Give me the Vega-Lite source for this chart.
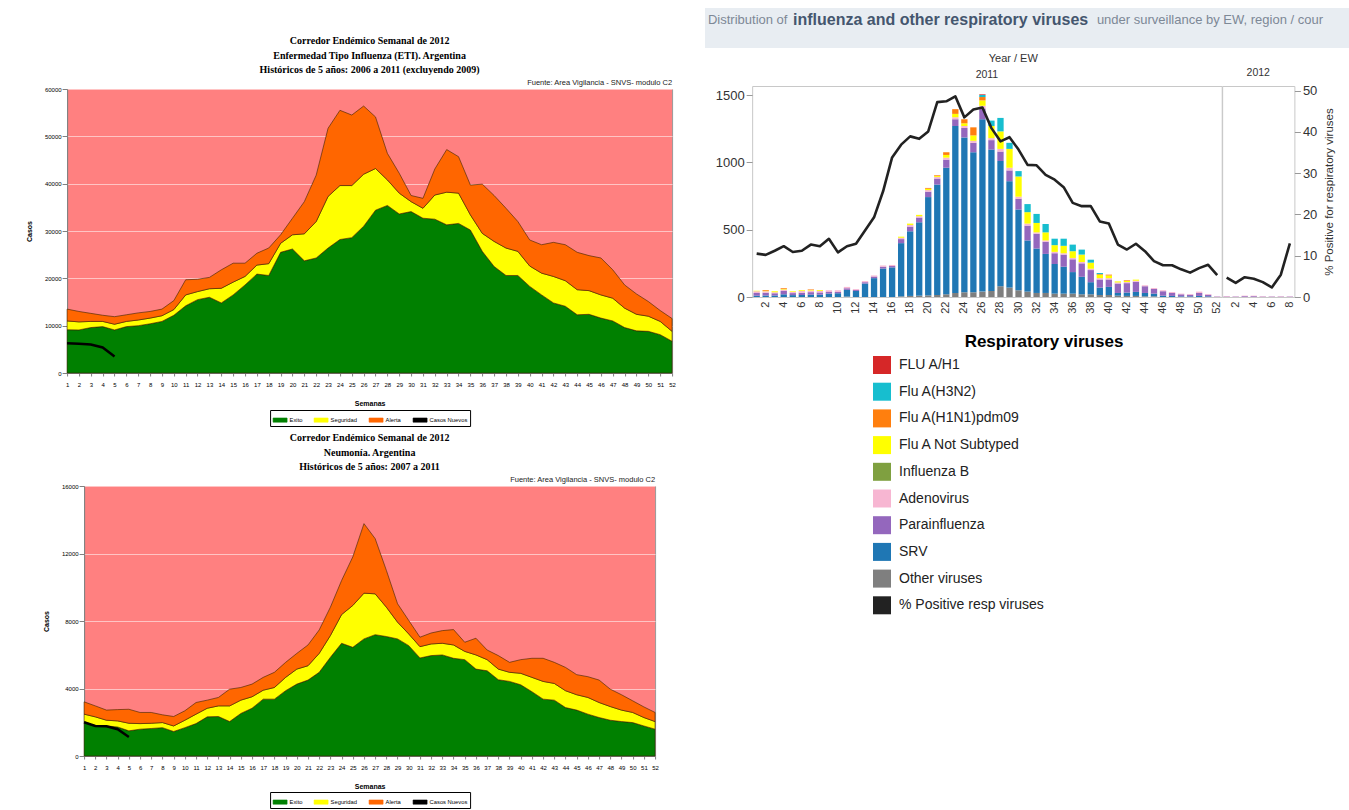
{
  "$schema": "https://vega.github.io/schema/vega-lite/v6.json",
  "background": "white",
  "padding": {"left": 24, "top": 8, "right": 4, "bottom": 0},
  "config": {
    "font": "Liberation Sans",
    "axis": {"labelFont": "Liberation Sans", "titleFont": "Liberation Sans"},
    "legend": {"labelFont": "Liberation Sans", "titleFont": "Liberation Sans", "layout": {"bottom": {"anchor": "middle"}}},
    "view": {"stroke": null}
  },
  "datasets": {
    "eti": [
      {"wk":1,"g":9140,"s":11000,"a":13500,"n":6300},{"wk":2,"g":9100,"s":10800,"a":13000,"n":6200},{"wk":3,"g":9600,"s":10900,"a":12600,"n":6000},{"wk":4,"g":9800,"s":10900,"a":12200,"n":5400},{"wk":5,"g":9100,"s":10300,"a":11900,"n":3500},
      {"wk":6,"g":9800,"s":10900,"a":12300},{"wk":7,"g":10000,"s":11200,"a":12700},{"wk":8,"g":10400,"s":11600,"a":13000},{"wk":9,"g":10900,"s":12100,"a":13500},{"wk":10,"g":12200,"s":13400,"a":15300},
      {"wk":11,"g":14200,"s":16500,"a":19700},{"wk":12,"g":15500,"s":17200,"a":19800},{"wk":13,"g":16000,"s":17800,"a":20200},{"wk":14,"g":14800,"s":17900,"a":21800},{"wk":15,"g":16500,"s":19200,"a":23200},
      {"wk":16,"g":18600,"s":20400,"a":23200},{"wk":17,"g":20900,"s":22800,"a":25300},{"wk":18,"g":20600,"s":23100,"a":26400},{"wk":19,"g":25500,"s":27400,"a":29200},{"wk":20,"g":26200,"s":29200,"a":32700},
      {"wk":21,"g":23700,"s":29400,"a":36200},{"wk":22,"g":24300,"s":32000,"a":41800},{"wk":23,"g":26400,"s":37300,"a":51700},{"wk":24,"g":28200,"s":39600,"a":55500},{"wk":25,"g":28600,"s":39600,"a":54500},
      {"wk":26,"g":31000,"s":42000,"a":56400},{"wk":27,"g":34400,"s":43200,"a":54100},{"wk":28,"g":35400,"s":40800,"a":46400},{"wk":29,"g":33600,"s":38000,"a":42200},{"wk":30,"g":34100,"s":36200,"a":37500},
      {"wk":31,"g":32700,"s":34800,"a":36900},{"wk":32,"g":32500,"s":37600,"a":43100},{"wk":33,"g":31300,"s":38200,"a":47200},{"wk":34,"g":31600,"s":38000,"a":45700},{"wk":35,"g":30200,"s":33400,"a":39700},
      {"wk":36,"g":25700,"s":29500,"a":39900},{"wk":37,"g":22500,"s":27800,"a":37500},{"wk":38,"g":20600,"s":26400,"a":34800},{"wk":39,"g":20600,"s":25700,"a":32000},{"wk":40,"g":18300,"s":22600,"a":28100},
      {"wk":41,"g":16500,"s":21100,"a":27100},{"wk":42,"g":14800,"s":20400,"a":27600},{"wk":43,"g":14100,"s":19500,"a":27100},{"wk":44,"g":12300,"s":17600,"a":25500},{"wk":45,"g":12400,"s":17400,"a":24800},
      {"wk":46,"g":11600,"s":16500,"a":24300},{"wk":47,"g":11000,"s":15800,"a":21800},{"wk":48,"g":9600,"s":13700,"a":18600},{"wk":49,"g":8900,"s":12400,"a":16700},{"wk":50,"g":8800,"s":12000,"a":15100},
      {"wk":51,"g":8100,"s":10900,"a":13200},{"wk":52,"g":6700,"s":8800,"a":11500}
    ],
    "neu": [
      {"wk":1,"g":2040,"s":2480,"a":3210,"n":2000},{"wk":2,"g":1780,"s":2320,"a":2970,"n":1780},{"wk":3,"g":1780,"s":2120,"a":2720,"n":1760},{"wk":4,"g":1720,"s":2080,"a":2750,"n":1590},{"wk":5,"g":1490,"s":1940,"a":2770,"n":1130},
      {"wk":6,"g":1590,"s":1920,"a":2580},{"wk":7,"g":1630,"s":1940,"a":2580},{"wk":8,"g":1680,"s":1980,"a":2440},{"wk":9,"g":1450,"s":1780,"a":2340},{"wk":10,"g":1680,"s":2120,"a":2680},
      {"wk":11,"g":1920,"s":2480,"a":3170},{"wk":12,"g":2320,"s":2830,"a":3310},{"wk":13,"g":2340,"s":2970,"a":3470},{"wk":14,"g":2040,"s":2970,"a":3960},{"wk":15,"g":2520,"s":3310,"a":4060},
      {"wk":16,"g":2830,"s":3510,"a":4260},{"wk":17,"g":3370,"s":3900,"a":4660},{"wk":18,"g":3370,"s":4060,"a":4960},{"wk":19,"g":3870,"s":4660,"a":5550},{"wk":20,"g":4260,"s":5150,"a":6080},
      {"wk":21,"g":4500,"s":5350,"a":6580},{"wk":22,"g":4960,"s":6080,"a":7470},{"wk":23,"g":5850,"s":7140,"a":8820},{"wk":24,"g":6680,"s":8380,"a":10400},{"wk":25,"g":6440,"s":8920,"a":11800},
      {"wk":26,"g":6940,"s":9650,"a":13770},{"wk":27,"g":7190,"s":9610,"a":12880},{"wk":28,"g":7080,"s":8820,"a":11000},{"wk":29,"g":6940,"s":7930,"a":9020},{"wk":30,"g":6540,"s":7230,"a":8030},
      {"wk":31,"g":5810,"s":6480,"a":7040},{"wk":32,"g":5950,"s":6640,"a":7290},{"wk":33,"g":5990,"s":6680,"a":7430},{"wk":34,"g":5790,"s":6580,"a":7490},{"wk":35,"g":5710,"s":6200,"a":6740},
      {"wk":36,"g":5150,"s":5990,"a":6980},{"wk":37,"g":5050,"s":5710,"a":6280},{"wk":38,"g":4520,"s":5150,"a":5950},{"wk":39,"g":4420,"s":4960,"a":5550},{"wk":40,"g":4220,"s":4900,"a":5710},
      {"wk":41,"g":3810,"s":4660,"a":5790},{"wk":42,"g":3370,"s":4420,"a":5790},{"wk":43,"g":3310,"s":4300,"a":5550},{"wk":44,"g":2870,"s":3870,"a":5250},{"wk":45,"g":2720,"s":3630,"a":4820},
      {"wk":46,"g":2480,"s":3470,"a":4700},{"wk":47,"g":2280,"s":3170,"a":4500},{"wk":48,"g":2120,"s":2930,"a":3960},{"wk":49,"g":2040,"s":2720,"a":3630},{"wk":50,"g":1980,"s":2580,"a":3270},
      {"wk":51,"g":1780,"s":2280,"a":2910},{"wk":52,"g":1590,"s":2040,"a":2580}
    ],
    "vnames": [
      {"k":"h1","virus":"FLU A/H1","o":9},{"k":"h3","virus":"Flu A(H3N2)","o":8},{"k":"pdm","virus":"Flu A(H1N1)pdm09","o":7},
      {"k":"nst","virus":"Flu A Not Subtyped","o":6},{"k":"flb","virus":"Influenza B","o":5},{"k":"ade","virus":"Adenovirus","o":4},
      {"k":"par","virus":"Parainfluenza","o":3},{"k":"srv","virus":"SRV","o":2},{"k":"oth","virus":"Other viruses","o":1}
    ],
    "header": [
      {"part": "Distribution of", "pos": 0.0044, "style": "plain"},
      {"part": "influenza and other respiratory viruses", "pos": 0.1298, "style": "bold"},
      {"part": "under surveillance by EW, region / cour", "pos": 0.578, "style": "plain"}
    ],
    "flu": [
      {"yr":2011,"wk":1,"pct":10.5,"srv":10,"par":20,"ade":12,"nst":5},
      {"yr":2011,"wk":2,"pct":10.2,"srv":12,"par":20,"ade":10,"nst":5,"pdm":5},
      {"yr":2011,"wk":3,"pct":11.2,"srv":12,"par":15,"ade":8,"nst":7},
      {"yr":2011,"wk":4,"pct":12.3,"srv":20,"par":25,"ade":10,"nst":4,"pdm":6},
      {"yr":2011,"wk":5,"pct":10.9,"srv":14,"par":15,"ade":8,"nst":5},
      {"yr":2011,"wk":6,"pct":11.2,"srv":15,"par":17,"ade":12,"nst":6},
      {"yr":2011,"wk":7,"pct":12.7,"srv":18,"par":18,"ade":12,"nst":4,"pdm":4},
      {"yr":2011,"wk":8,"pct":12.3,"srv":18,"par":16,"ade":12,"nst":6},
      {"yr":2011,"wk":9,"pct":14.1,"srv":25,"par":12,"ade":13},
      {"yr":2011,"wk":10,"pct":10.8,"srv":28,"par":10,"ade":12},
      {"yr":2011,"wk":11,"pct":12.3,"oth":3,"srv":50,"par":12,"ade":10},
      {"yr":2011,"wk":12,"pct":12.9,"srv":45,"par":8,"ade":6},
      {"yr":2011,"wk":13,"pct":16.1,"srv":100,"par":10,"ade":8},
      {"yr":2011,"wk":14,"pct":19.3,"srv":140,"par":12,"ade":8},
      {"yr":2011,"wk":15,"pct":25.6,"srv":212,"par":12,"ade":10},
      {"yr":2011,"wk":16,"pct":33.8,"srv":220,"par":10,"ade":8},
      {"yr":2011,"wk":17,"pct":36.9,"oth":5,"srv":395,"par":30,"ade":10,"nst":8},
      {"yr":2011,"wk":18,"pct":38.9,"oth":8,"srv":480,"par":35,"ade":12,"nst":10},
      {"yr":2011,"wk":19,"pct":38.3,"oth":10,"srv":545,"par":35,"ade":10,"nst":10},
      {"yr":2011,"wk":20,"pct":40.1,"oth":12,"srv":730,"par":40,"ade":12,"nst":10,"pdm":6},
      {"yr":2011,"wk":21,"pct":47.2,"oth":15,"srv":820,"par":45,"ade":12,"nst":8,"pdm":5},
      {"yr":2011,"wk":22,"pct":47.4,"oth":20,"srv":940,"par":60,"ade":15,"nst":20,"pdm":20},
      {"yr":2011,"wk":23,"pct":48.6,"oth":30,"srv":1240,"par":50,"ade":15,"nst":25,"pdm":35},
      {"yr":2011,"wk":24,"pct":43.5,"oth":35,"srv":1150,"par":70,"ade":15,"nst":20,"pdm":30},
      {"yr":2011,"wk":25,"pct":45.4,"oth":35,"srv":1040,"par":70,"ade":15,"nst":40,"pdm":60},
      {"yr":2011,"wk":26,"pct":45.9,"oth":40,"srv":1280,"par":80,"ade":20,"nst":40,"pdm":25,"h3":15,"h1":5},
      {"yr":2011,"wk":27,"pct":40.9,"oth":45,"srv":1050,"par":70,"ade":15,"nst":90,"h3":40},
      {"yr":2011,"wk":28,"pct":37.7,"oth":80,"srv":930,"par":70,"ade":20,"nst":130,"h3":100},
      {"yr":2011,"wk":29,"pct":38.7,"oth":70,"srv":790,"par":80,"ade":20,"nst":140,"h3":45},
      {"yr":2011,"wk":30,"pct":35.7,"oth":50,"srv":600,"par":80,"ade":15,"nst":150,"h3":40},
      {"yr":2011,"wk":31,"pct":32.0,"oth":40,"srv":380,"par":110,"ade":15,"nst":85,"h3":60},
      {"yr":2011,"wk":32,"pct":31.9,"oth":30,"srv":330,"par":110,"ade":10,"nst":70,"h3":67},
      {"yr":2011,"wk":33,"pct":29.6,"oth":30,"srv":290,"par":90,"ade":10,"nst":60,"h3":62},
      {"yr":2011,"wk":34,"pct":28.4,"oth":25,"srv":220,"par":80,"ade":10,"nst":50,"h3":48},
      {"yr":2011,"wk":35,"pct":26.6,"oth":25,"srv":200,"par":90,"ade":10,"nst":55,"h3":53},
      {"yr":2011,"wk":36,"pct":22.8,"oth":25,"srv":160,"par":95,"ade":10,"nst":50,"h3":49},
      {"yr":2011,"wk":37,"pct":22.0,"oth":20,"srv":130,"par":100,"ade":10,"nst":55,"h3":37},
      {"yr":2011,"wk":38,"pct":22.0,"oth":20,"srv":90,"par":90,"ade":10,"nst":45,"h3":22},
      {"yr":2011,"wk":39,"pct":18.3,"oth":15,"srv":55,"par":60,"ade":10,"nst":25,"pdm":5,"h3":8},
      {"yr":2011,"wk":40,"pct":17.8,"oth":15,"srv":60,"par":55,"ade":10,"nst":20,"pdm":6},
      {"yr":2011,"wk":41,"pct":12.7,"oth":10,"srv":20,"par":70,"ade":8,"nst":8},
      {"yr":2011,"wk":42,"pct":11.5,"oth":8,"srv":25,"par":70,"ade":8,"nst":8,"pdm":5},
      {"yr":2011,"wk":43,"pct":12.9,"oth":8,"srv":30,"par":75,"ade":8,"nst":8},
      {"yr":2011,"wk":44,"pct":11.1,"oth":5,"srv":25,"par":50,"ade":7},
      {"yr":2011,"wk":45,"pct":8.7,"oth":5,"srv":20,"par":35,"ade":7},
      {"yr":2011,"wk":46,"pct":7.7,"srv":10,"par":33,"ade":7},
      {"yr":2011,"wk":47,"pct":7.7,"srv":8,"par":22,"ade":7},
      {"yr":2011,"wk":48,"pct":6.7,"srv":5,"par":15,"ade":5},
      {"yr":2011,"wk":49,"pct":5.9,"srv":5,"par":12,"ade":5},
      {"yr":2011,"wk":50,"pct":7.0,"srv":8,"par":22,"ade":10},
      {"yr":2011,"wk":51,"pct":7.8,"srv":5,"par":12,"ade":5},
      {"yr":2011,"wk":52,"pct":5.3,"par":3,"ade":2},
      {"yr":2012,"wk":1,"pct":4.7,"par":4,"ade":4},
      {"yr":2012,"wk":2,"pct":3.4,"par":3,"ade":2},
      {"yr":2012,"wk":3,"pct":4.8,"par":6,"ade":4},
      {"yr":2012,"wk":4,"pct":4.4,"par":6,"ade":4},
      {"yr":2012,"wk":5,"pct":3.6,"par":3,"ade":3},
      {"yr":2012,"wk":6,"pct":2.3,"par":3,"ade":2},
      {"yr":2012,"wk":7,"pct":5.4,"par":3,"ade":3},
      {"yr":2012,"wk":8,"pct":13.0,"par":3,"ade":2}
    ]
  },
  "hconcat": [
    {
      "vconcat": [
        {
          "width": 10, "height": 22,
          "data": {"values": []},
          "mark": {"type": "point", "opacity": 0},
          "view": {"stroke": null}
        },
        {
          "width": 605, "height": 284,
          "view": {"fill": "#ff8080", "stroke": "#9a9a9a"},
          "title": {"text": ["Corredor Endémico Semanal de 2012", "Enfermedad Tipo Influenza (ETI).  Argentina", "Históricos de 5 años: 2006 a 2011 (excluyendo 2009)"], "font": "Liberation Serif", "fontSize": 10, "fontWeight": "bold", "lineHeight": 14.5, "offset": 4, "color": "#000"},
          "data": {"name": "eti"},
          "encoding": {
            "x": {"field": "wk", "type": "ordinal", "scale": {"type": "point", "padding": 0},
              "axis": {"title": "Semanas", "titleFontSize": 7, "titleFontWeight": "bold", "titlePadding": 12, "labelAngle": 0, "labelFontSize": 6, "labelPadding": 5, "tickSize": 3, "labelOverlap": false, "domainColor": "#808080", "tickColor": "#808080", "labelColor": "#000"}}
          },
          "layer": [
            {"mark": {"type": "area", "stroke": "#3b2200", "strokeWidth": 0.6},
             "encoding": {
               "y": {"field": "g", "type": "quantitative", "scale": {"domain": [0, 60000], "nice": false},
                 "axis": {"title": "Casos", "values": [0,10000,20000,30000,40000,50000,60000], "format": "d", "titleFontSize": 7, "titleFontWeight": "bold", "titlePadding": 12, "labelFontSize": 6, "labelPadding": 1, "tickSize": 5, "domainColor": "#808080", "tickColor": "#808080", "labelColor": "#000", "grid": true, "gridColor": "#ffc4c4"}},
               "y2": {"datum": 0},
               "color": {"datum": "Exito", "scale": {"domain": ["Exito", "Seguridad", "Alerta", "Casos Nuevos"], "range": ["#008000", "#ffff00", "#ff6600", "#000000"]},
                 "legend": {"orient": "bottom", "direction": "horizontal", "title": null, "symbolType": "M-1,-0.3H1V0.3H-1Z", "symbolSize": 196, "symbolStrokeColor": "#000", "symbolStrokeWidth": 0.6, "labelFontSize": 5.8, "labelOffset": 2, "columnPadding": 10, "strokeColor": "#000", "padding": 2.5, "offset": 4}}
             }},
            {"mark": {"type": "area", "stroke": "#3b2200", "strokeWidth": 0.6},
             "encoding": {"y": {"field": "s", "type": "quantitative"}, "y2": {"field": "g"}, "color": {"datum": "Seguridad"}}},
            {"mark": {"type": "area", "stroke": "#3b2200", "strokeWidth": 0.6},
             "encoding": {"y": {"field": "a", "type": "quantitative"}, "y2": {"field": "s"}, "color": {"datum": "Alerta"}}},
            {"mark": {"type": "line", "strokeWidth": 2.5},
             "encoding": {"y": {"field": "n", "type": "quantitative"}, "color": {"datum": "Casos Nuevos"}}},
            {"data": {"values": [{"src": "Fuente: Area Vigilancia - SNVS- modulo C2"}]},
             "mark": {"type": "text", "align": "right", "baseline": "bottom", "dy": -2, "fontSize": 7.5, "color": "#222"},
             "encoding": {"x": {"datum": 52, "type": "ordinal"}, "y": {"datum": 60000, "type": "quantitative"}, "text": {"field": "src"}}}
          ]
        },
        {
          "width": 571, "height": 270,
          "view": {"fill": "#ff8080", "stroke": "#9a9a9a"},
          "title": {"text": ["Corredor Endémico Semanal de 2012", "Neumonía.  Argentina", "Históricos de 5 años: 2007 a 2011"], "font": "Liberation Serif", "fontSize": 10, "fontWeight": "bold", "lineHeight": 14.5, "offset": 4, "color": "#000"},
          "data": {"name": "neu"},
          "encoding": {
            "x": {"field": "wk", "type": "ordinal", "scale": {"type": "point", "padding": 0},
              "axis": {"title": "Semanas", "titleFontSize": 7, "titleFontWeight": "bold", "titlePadding": 12, "labelAngle": 0, "labelFontSize": 6, "labelPadding": 5, "tickSize": 3, "labelOverlap": false, "domainColor": "#808080", "tickColor": "#808080", "labelColor": "#000"}}
          },
          "layer": [
            {"mark": {"type": "area", "stroke": "#3b2200", "strokeWidth": 0.6},
             "encoding": {
               "y": {"field": "g", "type": "quantitative", "scale": {"domain": [0, 16000], "nice": false},
                 "axis": {"title": "Casos", "values": [0,2000,4000,6000,8000,10000,12000,14000,16000], "format": "d", "titleFontSize": 7, "titleFontWeight": "bold", "titlePadding": 12, "labelFontSize": 6, "labelPadding": 1, "tickSize": 5, "domainColor": "#808080", "tickColor": "#808080", "labelColor": "#000", "grid": true, "gridColor": "#ffc4c4"}},
               "y2": {"datum": 0},
               "color": {"datum": "Exito", "scale": {"domain": ["Exito", "Seguridad", "Alerta", "Casos Nuevos"], "range": ["#008000", "#ffff00", "#ff6600", "#000000"]},
                 "legend": {"orient": "bottom", "direction": "horizontal", "title": null, "symbolType": "M-1,-0.3H1V0.3H-1Z", "symbolSize": 196, "symbolStrokeColor": "#000", "symbolStrokeWidth": 0.6, "labelFontSize": 5.8, "labelOffset": 2, "columnPadding": 10, "strokeColor": "#000", "padding": 2.5, "offset": 3}}
             }},
            {"mark": {"type": "area", "stroke": "#3b2200", "strokeWidth": 0.6},
             "encoding": {"y": {"field": "s", "type": "quantitative"}, "y2": {"field": "g"}, "color": {"datum": "Seguridad"}}},
            {"mark": {"type": "area", "stroke": "#3b2200", "strokeWidth": 0.6},
             "encoding": {"y": {"field": "a", "type": "quantitative"}, "y2": {"field": "s"}, "color": {"datum": "Alerta"}}},
            {"mark": {"type": "line", "strokeWidth": 2.5},
             "encoding": {"y": {"field": "n", "type": "quantitative"}, "color": {"datum": "Casos Nuevos"}}},
            {"data": {"values": [{"src": "Fuente: Area Vigilancia - SNVS- modulo C2"}]},
             "mark": {"type": "text", "align": "right", "baseline": "bottom", "dy": -2, "fontSize": 7.5, "color": "#222"},
             "encoding": {"x": {"datum": 52, "type": "ordinal"}, "y": {"datum": 16000, "type": "quantitative"}, "text": {"field": "src"}}}
          ]
        }
      ],
      "spacing": 5,
      "center": true,
      "resolve": {"scale": {"color": "independent"}, "legend": {"color": "independent"}}
    },
    {
      "vconcat": [
        {
          "width": 678, "height": 40,
          "view": {"fill": "#e8edf2", "stroke": null},
          "data": {"name": "header"},
          "encoding": {
            "text": {"field": "part"},
            "x": {"field": "pos", "type": "quantitative", "scale": {"domain": [0, 1]}, "axis": null},
            "y": {"datum": 0.7, "type": "quantitative", "scale": {"domain": [0, 1]}, "axis": null}
          },
          "layer": [
            {"transform": [{"filter": {"field": "style", "equal": "plain"}}],
             "mark": {"type": "text", "align": "left", "baseline": "middle", "fontSize": 13, "color": "#7d8896"}},
            {"transform": [{"filter": {"field": "style", "equal": "bold"}}],
             "mark": {"type": "text", "align": "left", "baseline": "middle", "fontSize": 16, "fontWeight": "bold", "color": "#44566e"}}
          ]
        },
        {
          "title": {"text": "Year / EW", "anchor": "middle", "fontSize": 11, "fontWeight": "normal", "color": "#333", "font": "Liberation Sans", "offset": 4},
          "data": {"name": "flu"},
          "bounds": "flush",
          "hconcat": [
            {
              "title": {"text": "2011", "fontSize": 10.5, "fontWeight": "normal", "color": "#333", "font": "Liberation Sans", "offset": 6},
              "width": {"step": 9.03}, "height": 211,
              "view": {"stroke": "#c8c8c8"},
              "transform": [{"filter": {"field": "yr", "equal": 2011}}],
              "layer": [
                {
                  "transform": [
                    {"fold": ["oth","srv","par","ade","flb","nst","pdm","h3","h1"], "as": ["k","n"]},
                    {"filter": {"field": "n", "valid": true}},
                    {"lookup": "k", "from": {"data": {"name": "vnames"}, "key": "k", "fields": ["virus","o"]}}
                  ],
                  "mark": {"type": "bar"},
                  "encoding": {
                    "x": {"field": "wk", "type": "ordinal", "scale": {"paddingInner": 0.3, "paddingOuter": 0.15},
                      "axis": {"title": null, "labelAngle": -90, "labelExpr": "datum.value % 2 == 0 ? datum.label : ''", "ticks": false, "domain": false, "labelFontSize": 11, "labelColor": "#333", "labelPadding": 4}},
                    "y": {"field": "n", "type": "quantitative", "stack": "zero", "scale": {"domain": [0, 1567], "nice": false},
                      "axis": {"title": " ", "titleFontSize": 4, "titlePadding": 20, "values": [0,500,1000,1500], "format": "d", "labelFontSize": 13, "labelColor": "#333", "tickColor": "#999", "tickSize": 6, "domain": false, "grid": false, "labelPadding": 2}},
                    "color": {"field": "virus", "type": "nominal",
                      "scale": {"domain": ["FLU A/H1","Flu A(H3N2)","Flu A(H1N1)pdm09","Flu A Not Subtyped","Influenza B","Adenovirus","Parainfluenza","SRV","Other viruses","% Positive resp viruses"],
                                "range": ["#d62728","#17becf","#ff7f0e","#ffff00","#7fa040","#f7b6d2","#9467bd","#1f77b4","#7f7f7f","#222222"]},
                      "legend": {"orient": "none", "legendX": 168, "legendY": 326, "direction": "vertical", "title": "Respiratory viruses", "titleFontSize": 17, "titleFontWeight": "bold", "titleColor": "#000", "titleAnchor": "end", "titleAlign": "center", "titlePadding": 5, "labelFontSize": 14, "labelColor": "#222", "symbolType": "square", "symbolSize": 324, "symbolStrokeWidth": 0, "symbolOpacity": 1, "rowPadding": 8.7, "labelOffset": 8}},
                    "order": {"field": "o", "type": "quantitative"}
                  }
                },
                {
                  "mark": {"type": "line", "strokeWidth": 2.6, "strokeJoin": "round"},
                  "encoding": {
                    "x": {"field": "wk", "type": "ordinal"},
                    "y": {"field": "pct", "type": "quantitative", "scale": {"domain": [0, 51.1], "nice": false}, "axis": null},
                    "color": {"datum": "% Positive resp viruses"}
                  }
                }
              ],
              "resolve": {"scale": {"y": "independent"}}
            },
            {
              "title": {"text": "2012", "fontSize": 10.5, "fontWeight": "normal", "color": "#333", "font": "Liberation Sans", "offset": 6},
              "width": {"step": 9.03}, "height": 211,
              "view": {"stroke": "#c8c8c8"},
              "transform": [{"filter": {"field": "yr", "equal": 2012}}],
              "layer": [
                {
                  "transform": [
                    {"fold": ["oth","srv","par","ade","flb","nst","pdm","h3","h1"], "as": ["k","n"]},
                    {"filter": {"field": "n", "valid": true}},
                    {"lookup": "k", "from": {"data": {"name": "vnames"}, "key": "k", "fields": ["virus","o"]}}
                  ],
                  "mark": {"type": "bar"},
                  "encoding": {
                    "x": {"field": "wk", "type": "ordinal", "scale": {"paddingInner": 0.3, "paddingOuter": 0.15},
                      "axis": {"title": null, "labelAngle": -90, "labelExpr": "datum.value % 2 == 0 ? datum.label : ''", "ticks": false, "domain": false, "labelFontSize": 11, "labelColor": "#333", "labelPadding": 4}},
                    "y": {"field": "n", "type": "quantitative", "stack": "zero", "scale": {"domain": [0, 1567], "nice": false}, "axis": null},
                    "color": {"field": "virus", "type": "nominal"},
                    "order": {"field": "o", "type": "quantitative"}
                  }
                },
                {
                  "mark": {"type": "line", "strokeWidth": 2.6, "strokeJoin": "round"},
                  "encoding": {
                    "x": {"field": "wk", "type": "ordinal"},
                    "y": {"field": "pct", "type": "quantitative", "scale": {"domain": [0, 51.1], "nice": false},
                      "axis": {"orient": "right", "title": "% Positive for respiratory viruses", "titleAngle": 270, "titleFontSize": 11.5, "titleFontWeight": "normal", "titleColor": "#333", "titlePadding": 18, "values": [0,10,20,30,40,50], "labelFontSize": 13, "labelColor": "#333", "tickColor": "#999", "tickSize": 6, "domain": false, "grid": false}},
                    "color": {"datum": "% Positive resp viruses"}
                  }
                }
              ],
              "resolve": {"scale": {"y": "independent"}}
            }
          ],
          "spacing": 0
        }
      ],
      "spacing": 4,
      "center": true
    }
  ],
  "spacing": 14,
  "resolve": {"scale": {"color": "independent"}, "legend": {"color": "independent"}}
}
